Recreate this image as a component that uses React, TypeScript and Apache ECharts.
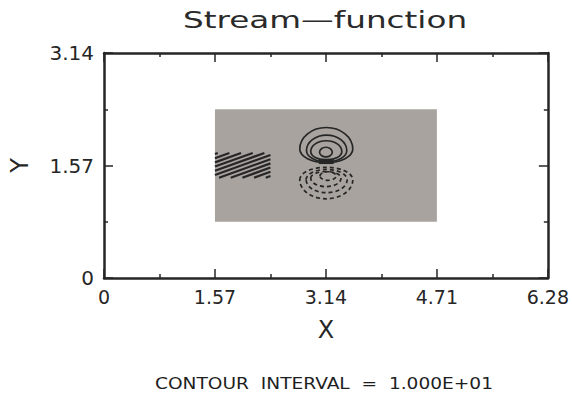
import React, { useEffect, useRef } from "react";
import * as echarts from "echarts";

// ---- data ----
const xTickLabels = ["0", "1.57", "3.14", "4.71", "6.28"];
const yTickLabels = ["0", "1.57", "3.14"];
const xRange = [0, 6.28];
const yRange = [0, 3.14];
const tickStep = 1.57;

// shaded domain box: [x0, y0, x1, y1]
const shadedBox = [[1.57, 0.785, 4.71, 2.355]];
// hatched (dense contour) box: [x0, y0, x1, y1]
const hatchBox = [[1.57, 1.4, 2.355, 1.745]];
// dense core between the two lobes: [x0, y0, x1, y1]
const coreBox = [[3.04, 1.59, 3.25, 1.665]];
// positive lobe contours (solid): [cx, cy, rx, ryTop, ryBottom]
const solidContours = [
  [3.145, 1.8, 0.375, 0.3, 0.19],
  [3.15, 1.78, 0.285, 0.215, 0.16],
  [3.145, 1.765, 0.22, 0.15, 0.12],
  [3.14, 1.755, 0.09, 0.07, 0.065],
];
// negative lobe contours (dashed): [cx, cy, rx, ryTop, ryBottom]
const dashedContours = [
  [3.145, 1.37, 0.375, 0.175, 0.265],
  [3.15, 1.37, 0.29, 0.145, 0.18],
  [3.14, 1.395, 0.215, 0.09, 0.12],
  [3.17, 1.423, 0.115, 0.06, 0.06],
];

const titleText = "Stream\u2014function";
const footerText = "CONTOUR  INTERVAL  =  1.000E+01";

const INK = "#262626";
const FONT = "DejaVu Sans";

function rectItem(params: any, api: any, style: any) {
  const p0 = api.coord([api.value(0), api.value(1)]);
  const p1 = api.coord([api.value(2), api.value(3)]);
  return {
    type: "rect",
    shape: {
      x: Math.min(p0[0], p1[0]),
      y: Math.min(p0[1], p1[1]),
      width: Math.abs(p1[0] - p0[0]),
      height: Math.abs(p1[1] - p0[1]),
    },
    style,
  };
}

function hatchItem(params: any, api: any) {
  const p0 = api.coord([api.value(0), api.value(1)]);
  const p1 = api.coord([api.value(2), api.value(3)]);
  const x0 = Math.min(p0[0], p1[0]);
  const x1 = Math.max(p0[0], p1[0]);
  const top = Math.min(p0[1], p1[1]);
  const bottom = Math.max(p0[1], p1[1]);
  const k = 0.36;
  const step = 4.2;
  const children: any[] = [];
  for (let b = top + 1; b <= bottom + k * (x1 - x0); b += step) {
    const xa = Math.max(x0, x0 + (b - bottom) / k);
    const xb = Math.min(x1, x0 + (b - top) / k);
    if (xb - xa > 0.5) {
      children.push({
        type: "line",
        shape: { x1: xa, y1: b - k * (xa - x0), x2: xb, y2: b - k * (xb - x0) },
        style: { stroke: INK, lineWidth: 2.2 },
      });
    }
  }
  return { type: "group", children };
}

function contourItem(dashed: boolean) {
  return (params: any, api: any) => {
    const c = api.coord([api.value(0), api.value(1)]);
    const rx = api.size([api.value(2), 0])[0];
    const ryT = api.size([0, api.value(3)])[1];
    const ryB = api.size([0, api.value(4)])[1];
    const l = c[0] - rx;
    const r = c[0] + rx;
    const y = c[1];
    const d = `M${l} ${y} A${rx} ${ryT} 0 0 1 ${r} ${y} A${rx} ${ryB} 0 0 1 ${l} ${y} Z`;
    return {
      type: "path",
      shape: { pathData: d },
      style: {
        fill: "none",
        stroke: INK,
        lineWidth: 1.7,
        lineDash: dashed ? [4, 3] : null,
      },
    };
  };
}

export default function App() {
  const ref = useRef<HTMLDivElement>(null);
  useEffect(() => {
    if (!ref.current) return;
    const chart = echarts.init(ref.current, null, { renderer: "svg" });
    const axisLine = { show: true, onZero: false, lineStyle: { color: INK, width: 2.5 } };
    const axisTick = { show: true, inside: true, length: 9, lineStyle: { color: INK, width: 1.5 } };
    const minorTick = { show: true, splitNumber: 2, length: 4, lineStyle: { color: INK, width: 1.5 } };
    const baseX = {
      type: "value",
      min: xRange[0],
      max: xRange[1],
      interval: tickStep,
      axisLine,
      axisTick,
      minorTick,
      splitLine: { show: false },
      minorSplitLine: { show: false },
    };
    const baseY = {
      type: "value",
      min: yRange[0],
      max: yRange[1],
      interval: tickStep,
      axisLine,
      axisTick,
      minorTick,
      splitLine: { show: false },
      minorSplitLine: { show: false },
    };
    chart.setOption({
      animation: false,
      backgroundColor: "#ffffff",
      grid: { left: 101, right: 23, top: 53, bottom: 121, containLabel: false },
      xAxis: [
        {
          ...baseX,
          position: "bottom",
          axisLabel: {
            formatter: (v: number, i: number) => xTickLabels[i] ?? "",
            fontSize: 19,
            fontFamily: FONT,
            color: INK,
            margin: 9,
          },
          name: "X",
          nameLocation: "middle",
          nameGap: 40,
          nameTextStyle: { fontSize: 24, fontFamily: FONT, color: INK },
        },
        { ...baseX, position: "top", axisLabel: { show: false } },
      ],
      yAxis: [
        {
          ...baseY,
          position: "left",
          axisLabel: {
            formatter: (v: number, i: number) => yTickLabels[i] ?? "",
            fontSize: 20,
            fontFamily: FONT,
            color: INK,
            margin: 10,
          },
          name: "Y",
          nameLocation: "middle",
          nameRotate: 90,
          nameGap: 72,
          nameTextStyle: { fontSize: 24, fontFamily: FONT, color: INK },
        },
        { ...baseY, position: "right", axisLabel: { show: false } },
      ],
      graphic: [
        {
          type: "text",
          x: 325,
          y: 20,
          scaleX: 1.42,
          style: {
            text: titleText,
            font: `23px "${FONT}"`,
            fill: "#2a2a2a",
            align: "center",
            verticalAlign: "middle",
          },
        },
        {
          type: "text",
          x: 324,
          y: 384,
          scaleX: 1.24,
          style: {
            text: footerText,
            font: `15px "${FONT}"`,
            fill: "#1e1e1e",
            align: "center",
            verticalAlign: "middle",
          },
        },
      ],
      series: [
        {
          type: "custom",
          data: shadedBox,
          encode: { x: [0, 2], y: [1, 3] },
          renderItem: (p: any, api: any) => rectItem(p, api, { fill: "#a8a39e" }),
          z: 1,
          silent: true,
        },
        {
          type: "custom",
          data: hatchBox,
          encode: { x: [0, 2], y: [1, 3] },
          renderItem: hatchItem,
          z: 2,
          silent: true,
        },
        {
          type: "custom",
          data: solidContours,
          encode: { x: 0, y: 1 },
          renderItem: contourItem(false),
          z: 3,
          silent: true,
        },
        {
          type: "custom",
          data: dashedContours,
          encode: { x: 0, y: 1 },
          renderItem: contourItem(true),
          z: 3,
          silent: true,
        },
        {
          type: "custom",
          data: coreBox,
          encode: { x: [0, 2], y: [1, 3] },
          renderItem: (p: any, api: any) => rectItem(p, api, { fill: INK }),
          z: 4,
          silent: true,
        },
      ],
    });
    return () => chart.dispose();
  }, []);
  return (
    <div
      ref={ref}
      style={{ position: "absolute", left: 0, top: 0, width: 572, height: 399, background: "#fff" }}
    />
  );
}
